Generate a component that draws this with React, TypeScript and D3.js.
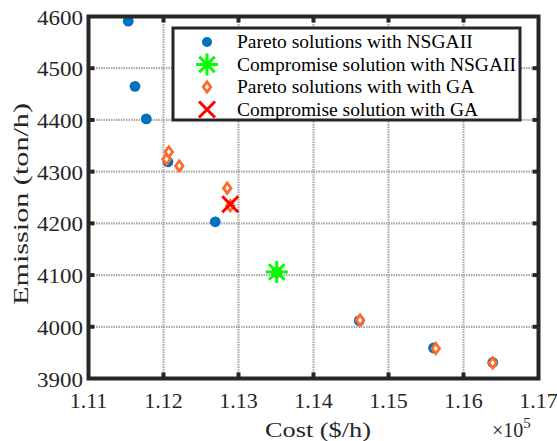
import React from "react";
import * as d3 from "d3";

const nsgaCost = [1.1153, 1.1162, 1.1177, 1.1206, 1.1269, 1.1351, 1.1461, 1.1560, 1.1639];
const nsgaEmission = [4591, 4465, 4402, 4319, 4203, 4105, 4012, 3959, 3931];
const gaCost = [1.1207, 1.1204, 1.1221, 1.1285, 1.1289, 1.1351, 1.1462, 1.1563, 1.1639];
const gaEmission = [4338, 4324, 4311, 4268, 4234, 4105, 4013, 3958, 3930];
const compNsga = { cost: 1.1351, emission: 4106 };
const compGa = { cost: 1.1289, emission: 4237 };
const xTicks = [1.11, 1.12, 1.13, 1.14, 1.15, 1.16, 1.17];
const yTicks = [3900, 4000, 4100, 4200, 4300, 4400, 4500, 4600];
const legendLabels = [
  "Pareto solutions with NSGAII",
  "Compromise solution with NSGAII",
  "Pareto solutions with with GA",
  "Compromise solution with GA",
];

const W = 557, H = 441;
const L = 88.5, R = 538.5, T = 16.5, B = 378.5;
const FONT = "Liberation Serif, serif";
const AX = "#262626";
const BLUE = "#0072BD";
const ORANGE = "#FF6929";

function Star({ x, y, r, color, sw }: { x: number; y: number; r: number; color: string; sw: number }) {
  const lines = [0, 45, 90, 135].map((a) => {
    const rad = (a * Math.PI) / 180;
    return (
      <line key={a} x1={x - r * Math.cos(rad)} y1={y - r * Math.sin(rad)} x2={x + r * Math.cos(rad)} y2={y + r * Math.sin(rad)} stroke={color} strokeWidth={sw} />
    );
  });
  return <g>{lines}</g>;
}

function Cross({ x, y, r, color, sw }: { x: number; y: number; r: number; color: string; sw: number }) {
  return (
    <g stroke={color} strokeWidth={sw}>
      <line x1={x - r} y1={y - r} x2={x + r} y2={y + r} />
      <line x1={x - r} y1={y + r} x2={x + r} y2={y - r} />
    </g>
  );
}

function Diamond({ x, y }: { x: number; y: number }) {
  const h = 5.2, w = 3.8;
  return (
    <path d={`M${x},${y - h}L${x + w},${y}L${x},${y + h}L${x - w},${y}Z`} fill="white" stroke={ORANGE} strokeWidth={2.8} />
  );
}

export default function App() {
  const x = d3.scaleLinear().domain([1.11, 1.17]).range([L, R]);
  const y = d3.scaleLinear().domain([3900, 4600]).range([B, T]);
  const fmtX = d3.format(".2f");

  const lx = 173, ly = 28, lw = 347, lh = 92;
  const rowY = [42, 64.5, 87, 109.5];
  const mx = 207, tx = 237;

  return (
    <svg width={W} height={H} style={{ position: "absolute", left: 0, top: 0, background: "white", fontFamily: FONT }}>
      <rect x={0} y={0} width={W} height={H} fill="white" />
      {/* grid */}
      <g stroke="#aaaaaa" strokeWidth={2.2} strokeDasharray="1.5,1">
        {xTicks.slice(1, -1).map((t) => (
          <line key={"gx" + t} x1={x(t)} x2={x(t)} y1={T} y2={B} />
        ))}
        {yTicks.slice(1, -1).map((t) => (
          <line key={"gy" + t} x1={L} x2={R} y1={y(t)} y2={y(t)} />
        ))}
      </g>
      {/* data */}
      {nsgaCost.map((c, i) => (
        <circle key={"n" + i} cx={x(c)} cy={y(nsgaEmission[i])} r={5.4} fill={BLUE} />
      ))}
      {gaCost.map((c, i) => (
        <Diamond key={"g" + i} x={x(c)} y={y(gaEmission[i])} />
      ))}
      <Star x={x(compNsga.cost)} y={y(compNsga.emission)} r={11} color="#00FF00" sw={3} />
      <Cross x={x(compGa.cost)} y={y(compGa.emission)} r={8} color="#FF0000" sw={3} />
      {/* ticks */}
      <g stroke={AX} strokeWidth={4}>
        {xTicks.slice(1, -1).map((t) => (
          <g key={"tx" + t}>
            <line x1={x(t)} x2={x(t)} y1={B} y2={B - 6} />
            <line x1={x(t)} x2={x(t)} y1={T} y2={T + 6} />
          </g>
        ))}
        {yTicks.slice(1, -1).map((t) => (
          <g key={"ty" + t}>
            <line x1={L} x2={L + 6} y1={y(t)} y2={y(t)} />
            <line x1={R} x2={R - 6} y1={y(t)} y2={y(t)} />
          </g>
        ))}
      </g>
      <rect x={L} y={T} width={R - L} height={B - T} fill="none" stroke={AX} strokeWidth={4} />
      {/* tick labels */}
      <g fontSize={22} fill="#262626">
        {xTicks.map((t) => (
          <text key={"lx" + t} x={x(t)} y={408} textAnchor="middle">{fmtX(t)}</text>
        ))}
      </g>
      <g fontSize={22} fill="#262626">
        {yTicks.map((t) => (
          <text key={"ly" + t} x={83} y={y(t) + 8} textAnchor="end" textLength={46} lengthAdjust="spacingAndGlyphs">{t}</text>
        ))}
      </g>
      <text x={318} y={437} fontSize={22} textAnchor="middle" fill="#262626" textLength={106} lengthAdjust="spacingAndGlyphs">Cost ($/h)</text>
      <text x={492} y={437} fontSize={20} fill="#262626">×10<tspan dy={-9} fontSize={15}>5</tspan></text>
      <text transform={`translate(28,204) rotate(-90)`} fontSize={22} textAnchor="middle" fill="#262626" textLength={202} lengthAdjust="spacingAndGlyphs">Emission (ton/h)</text>
      {/* legend */}
      <rect x={lx} y={ly} width={lw} height={lh} fill="white" stroke={AX} strokeWidth={3} />
      <circle cx={mx} cy={rowY[0]} r={5} fill={BLUE} />
      <Star x={mx} y={rowY[1]} r={11} color="#00FF00" sw={3} />
      <Diamond x={mx} y={rowY[2]} />
      <Cross x={mx} y={rowY[3]} r={8} color="#FF0000" sw={3} />
      <g fontSize={19.5} fill="#000">
        {legendLabels.map((s, i) => (
          <text key={s} x={tx} y={rowY[i] + 6}>{s}</text>
        ))}
      </g>
    </svg>
  );
}
